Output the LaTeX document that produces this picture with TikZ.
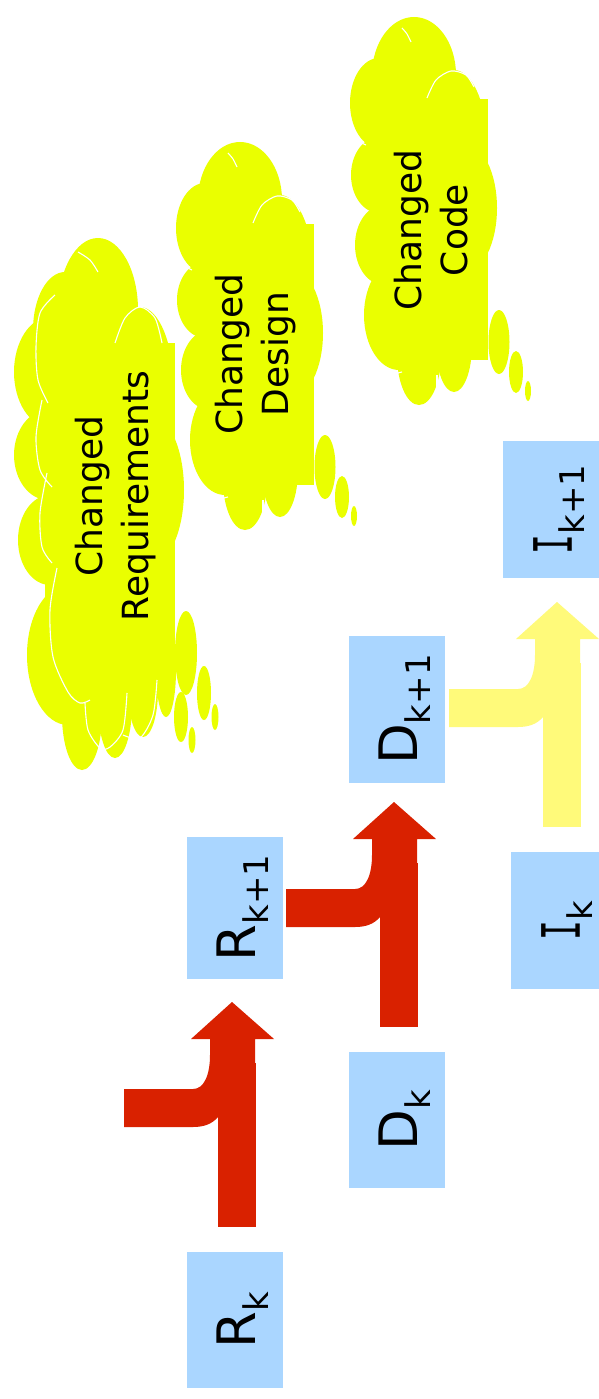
\documentclass[tikz,border=0pt]{standalone}
\usepackage{fontspec}
\setmainfont{DejaVu Sans}
\newfontfamily\monofnt{DejaVu Sans Mono}
\usepackage{graphicx}
\definecolor{boxblue}{RGB}{170,214,255}
\definecolor{arrowred}{RGB}{217,33,0}
\definecolor{arrowyel}{RGB}{255,250,122}
\definecolor{cloudyel}{RGB}{234,255,0}
\newcommand\subx[1]{\raisebox{-13pt}{\fontsize{34}{40}\selectfont #1}}
\newcommand\serifI{\scalebox{0.62}[1]{\monofnt I}}
\newcommand\myBentArrow{%
  \fill (218,1063) rectangle (256,1227);
  \fill (124,1089) -- (193,1089) .. controls (204,1089) and (210,1075) .. (210,1055)
    -- (210,1039) -- (191,1039) -- (232,1002) -- (274,1039) -- (255,1039)
    -- (255,1110) -- (218,1117) .. controls (212,1124) and (204,1127) .. (193,1127)
    -- (124,1127) -- cycle;
}
\newcommand\myCloudOne{%
  \begin{scope}[fill=cloudyel]
  \fill (98,310) ellipse [x radius=40, y radius=72];
  \fill (140,390) ellipse [x radius=34, y radius=83];
  \fill (65,330) ellipse [x radius=32, y radius=58];
  \fill (50,372) ellipse [x radius=36, y radius=55];
  \fill (48,455) ellipse [x radius=34, y radius=45];
  \fill (50,540) ellipse [x radius=32, y radius=45];
  \fill (68,655) ellipse [x radius=41, y radius=70];
  \fill (82,715) ellipse [x radius=20, y radius=55];
  \fill (115,705) ellipse [x radius=17, y radius=53];
  \fill (143,690) ellipse [x radius=15, y radius=47];
  \fill (166,670) ellipse [x radius=10, y radius=47];
  \fill (150,490) ellipse [x radius=34, y radius=75];
  \fill (100,480) ellipse [x radius=60, y radius=180];
  \fill (45,343) rectangle (175,680);
  \fill (186,653) ellipse [x radius=11, y radius=42];
  \fill (181,717) ellipse [x radius=7, y radius=25];
  \fill (204,693) ellipse [x radius=7, y radius=27];
  \fill (192,740) ellipse [x radius=3.5, y radius=13];
  \fill (215,717) ellipse [x radius=3.5, y radius=13];
  \end{scope}
  \begin{scope}[cloudline]
  \draw plot[smooth] coordinates {(78,252) (90,260) (98,272)};
  \draw plot[smooth] coordinates {(55,295) (40,313) (36,347) (38,380) (48,403)};
  \draw plot[smooth] coordinates {(42,400) (36,437) (40,470) (52,487)};
  \draw plot[smooth] coordinates {(47,473) (40,513) (42,547) (52,563)};
  \draw plot[smooth] coordinates {(57,568) (50,610) (53,657) (68,692) (80,703) (90,700)};
  \draw plot[smooth] coordinates {(85,703) (88,730) (100,748) (110,747) (123,730) (127,693)};
  \draw plot[smooth] coordinates {(123,735) (140,738) (153,715) (157,680)};
  \draw plot[smooth] coordinates {(115,343) (125,318) (140,307) (155,318) (162,343)};
  \end{scope}
}
\newcommand\myCloudTwo{%
  \begin{scope}[fill=cloudyel]
  \fill (240,200) ellipse [x radius=42, y radius=58];
  \fill (280,270) ellipse [x radius=33, y radius=75];
  \fill (205,228) ellipse [x radius=29, y radius=45];
  \fill (205,300) ellipse [x radius=28, y radius=38];
  \fill (210,370) ellipse [x radius=29, y radius=40];
  \fill (225,440) ellipse [x radius=35, y radius=55];
  \fill (245,480) ellipse [x radius=22, y radius=50];
  \fill (280,470) ellipse [x radius=18, y radius=47];
  \fill (290,333) ellipse [x radius=33, y radius=65];
  \fill (250,340) ellipse [x radius=50, y radius=130];
  \fill (215,224) rectangle (314,485);
  \fill (325,467) ellipse [x radius=10.5, y radius=32];
  \fill (342,497) ellipse [x radius=7, y radius=21];
  \fill (354,516) ellipse [x radius=3, y radius=10];
  \end{scope}
  \begin{scope}[cloudline]
  \draw plot[smooth] coordinates {(228,153) (233,159) (237,167)};
  \draw plot[smooth] coordinates {(253,223) (262,205) (277,196) (292,200) (300,212)};
  \draw plot[smooth] coordinates {(184,265) (188,268) (192,270)};
  \draw plot[smooth] coordinates {(220,500) (224,498) (228,497)};
  \draw (263,500) -- (263,522);
  \end{scope}
}
\tikzset{
  blockbox/.style={fill=boxblue, inner sep=0pt, outer sep=0pt},
  lbl/.style={rotate=90, inner sep=0pt, font=\fontsize{53}{60}\selectfont},
  cloudtext/.style={rotate=90, inner sep=0pt, align=center, font=\fontsize{36}{46}\selectfont},
  cloudline/.style={draw=white, line width=1.1pt},
}
\begin{document}
\begin{tikzpicture}[x=1pt,y=-1pt]
\useasboundingbox (0,0) rectangle (599,1399);
\fill[white] (0,0) rectangle (599,1399);
% clouds
\myCloudOne
\myCloudTwo
\begin{scope}[shift={(174,-125)}]
\myCloudTwo
\end{scope}
\node[cloudtext] (c1) at (116,496) {Changed\\Requirements};
\node[cloudtext] (c2) at (256,354) {Changed\\Design};
\node[cloudtext] (c3) at (431,230) {Changed\\Code};
% boxes
\node[blockbox, minimum width=96pt, minimum height=136pt] (Rk) at (235,1320) {};
\node[blockbox, minimum width=96pt, minimum height=142pt] (Rk1) at (235,908) {};
\node[blockbox, minimum width=96pt, minimum height=136pt] (Dk) at (397,1120) {};
\node[blockbox, minimum width=96pt, minimum height=147pt] (Dk1) at (397,709.5) {};
\node[blockbox, minimum width=88pt, minimum height=137pt] (Ik) at (555,920.5) {};
\node[blockbox, minimum width=96pt, minimum height=137pt] (Ik1) at (551,509.5) {};
\node[lbl] (RkL) at ([xshift=56pt]Rk.west) {R\subx{k}};
\node[lbl] (Rk1L) at ([xshift=56pt]Rk1.west) {R\subx{k+1}};
\node[lbl] (DkL) at ([xshift=56pt]Dk.west) {D\subx{k}};
\node[lbl] (Dk1L) at ([xshift=56pt]Dk1.west) {D\subx{k+1}};
\node[lbl] (IkL) at ([xshift=56pt]Ik.west) {\serifI\subx{k}};
\node[lbl] (Ik1L) at ([xshift=56pt]Ik1.west) {\serifI\subx{k+1}};
% block arrows
\begin{scope}[fill=arrowred]
\myBentArrow
\end{scope}
\begin{scope}[fill=arrowred, shift={(162,-200)}]
\myBentArrow
\end{scope}
\begin{scope}[fill=arrowyel, shift={(325,-400)}]
\myBentArrow
\end{scope}
\end{tikzpicture}
\end{document}
